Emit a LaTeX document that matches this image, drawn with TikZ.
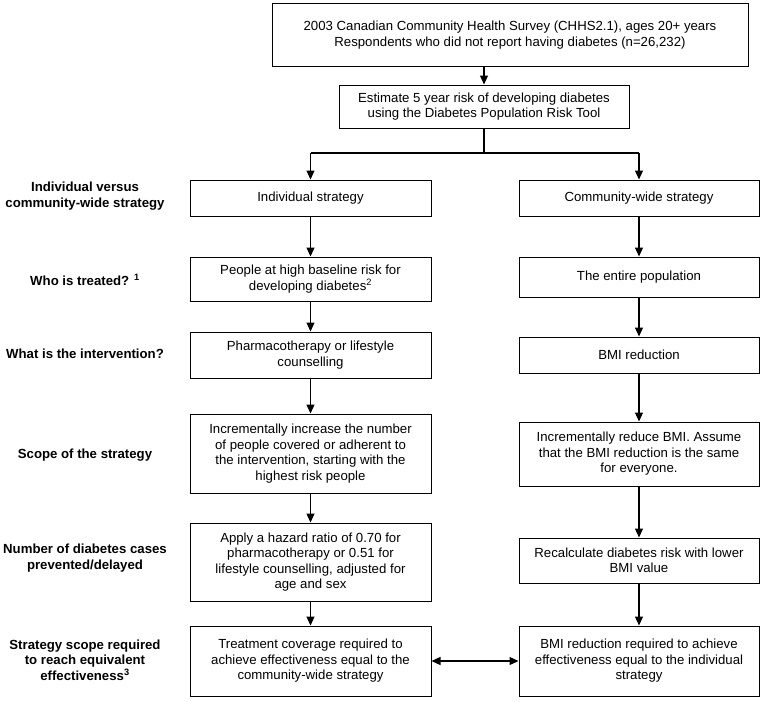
\documentclass[tikz,border=0pt]{standalone}
\usepackage{fontspec}
\setmainfont{Liberation Sans}
\usepackage{tikz}
\usetikzlibrary{arrows.meta}

\tikzset{
	box/.style={draw, line width=1pt, align=center, inner sep=2pt, font=\fontsize{13.2}{15.5}\selectfont},
	lbox/.style={box, minimum width=241pt},
	rbox/.style={box, minimum width=240pt},
	rowlabel/.style={align=center, font=\fontsize{13.2}{15.5}\selectfont\bfseries},
	arr/.style={-{Triangle[width=8pt,length=9pt]}, line width=1.2pt},
	dblarr/.style={{Triangle[width=8pt,length=9pt]}-{Triangle[width=8pt,length=9pt]}, line width=1.2pt}
}

\begin{document}
\begin{tikzpicture}[x=1pt,y=-1pt]
	\useasboundingbox (0,0) rectangle (765,701);

	\node[box, minimum width=476pt, minimum height=62pt] (survey) at (510,35) {2003 Canadian Community Health Survey (CHHS2.1), ages 20+ years\\Respondents who did not report having diabetes (n=26,232)};
	\node[box, minimum width=290pt, minimum height=43pt] (risk) at (484,106.5) {Estimate 5 year risk of developing diabetes\\using the Diabetes Population Risk Tool};
	\coordinate (split) at (484,153);

	\node[lbox, minimum height=36pt] (indiv) at (310.5,198) {Individual strategy};
	\node[rbox, minimum height=36pt] (comm) at (639,198) {Community-wide strategy};
	\node[lbox, minimum height=44pt] (highrisk) at (310.5,279) {People at high baseline risk for\\developing diabetes\textsuperscript{2}};
	\node[rbox, minimum height=40pt] (entire) at (639,277) {The entire population};
	\node[lbox, minimum height=46pt] (pharm) at (310.5,355) {Pharmacotherapy or lifestyle\\counselling};
	\node[rbox, minimum height=36pt] (bmi) at (639,355) {BMI reduction};
	\node[lbox, minimum height=79pt] (increase) at (310.5,453.5) {Incrementally increase the number\\of people covered or adherent to\\the intervention, starting with the\\highest risk people};
	\node[rbox, minimum height=64pt] (reduce) at (639,454) {Incrementally reduce BMI. Assume\\that the BMI reduction is the same\\for everyone.};
	\node[lbox, minimum height=78pt] (hazard) at (310.5,562) {Apply a hazard ratio of 0.70 for\\pharmacotherapy or 0.51 for\\lifestyle counselling, adjusted for\\age and sex};
	\node[rbox, minimum height=45pt] (recalc) at (639,560.5) {Recalculate diabetes risk with lower\\BMI value};
	\node[lbox, minimum height=70pt] (coverage) at (310.5,661) {Treatment coverage required to\\achieve effectiveness equal to the\\community-wide strategy};
	\node[rbox, minimum height=70pt] (bmireq) at (639,661) {BMI reduction required to achieve\\effectiveness equal to the individual\\strategy};

	\node[rowlabel] (lversus) at (85,196) {Individual versus\\community-wide strategy};
	\node[rowlabel] (lwho) at (85,280) {Who is treated? \textsuperscript{1}};
	\node[rowlabel] (lwhat) at (85,354) {What is the intervention?};
	\node[rowlabel] (lscope) at (85,455) {Scope of the strategy};
	\node[rowlabel] (lnumber) at (85,558) {Number of diabetes cases\\prevented/delayed};
	\node[rowlabel] (lreq) at (85,660) {Strategy scope required\\to reach equivalent\\effectiveness\textsuperscript{3}};

	\draw[arr] (survey.south -| risk.north) -- (risk.north);
	\draw[line width=1.2pt] (risk.south) -- (split);
	\draw[line width=1.2pt] (indiv.north |- split) -- (comm.north |- split);
	\draw[arr] (indiv.north |- split) -- (indiv.north);
	\draw[arr] (comm.north |- split) -- (comm.north);

	\draw[arr] (indiv) -- (highrisk);
	\draw[arr] (highrisk) -- (pharm);
	\draw[arr] (pharm) -- (increase);
	\draw[arr] (increase) -- (hazard);
	\draw[arr] (hazard) -- (coverage);

	\draw[arr] (comm) -- (entire);
	\draw[arr] (entire) -- (bmi);
	\draw[arr] (bmi) -- (reduce);
	\draw[arr] (reduce) -- (recalc);
	\draw[arr] (recalc) -- (bmireq);

	\draw[dblarr] (coverage) -- (bmireq);
\end{tikzpicture}
\end{document}
